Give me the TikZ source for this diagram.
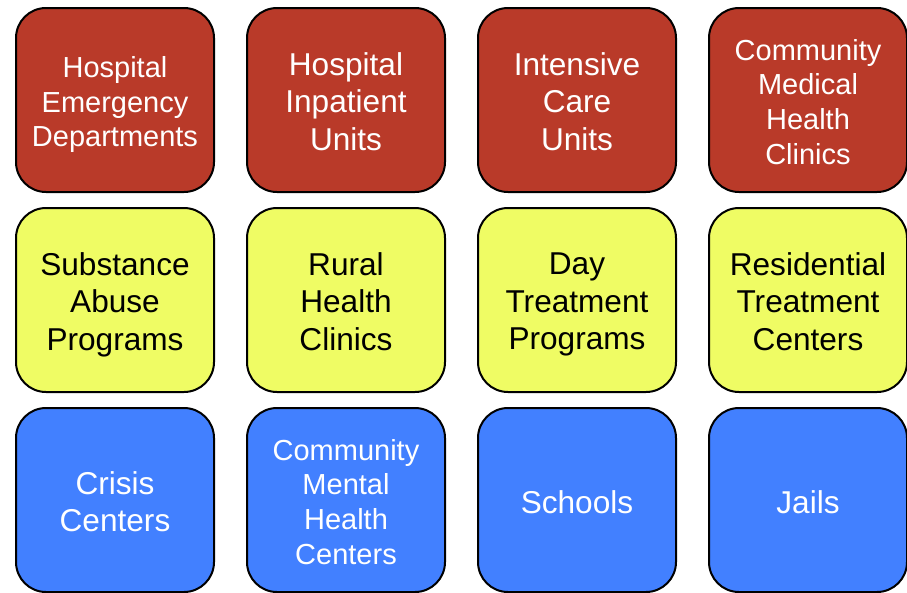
\documentclass[tikz,border=0pt]{standalone}
\usepackage{fontspec}
\setmainfont{Liberation Sans}
\definecolor{cred}{RGB}{185,58,41}
\definecolor{cyel}{RGB}{239,252,100}
\definecolor{cblue}{RGB}{66,128,255}
\newcommand\tstrut{\rule[-0.16\baselineskip]{0pt}{\baselineskip}}
\tikzset{
  tile/.style={draw=black, line width=2pt, rounded corners=30pt,
    minimum width=198pt, minimum height=184pt, inner sep=0pt},
  txt/.style={align=center, inner sep=0pt,
    execute at begin node=\tstrut, execute at end node=\tstrut},
  big/.style={font=\fontsize{31.6}{37.5}\selectfont},
  small/.style={font=\fontsize{29}{34.6}\selectfont},
  redtile/.style={tile, fill=cred},
  yeltile/.style={tile, fill=cyel},
  bluetile/.style={tile, fill=cblue},
  wtxt/.style={txt, text=white},
  ktxt/.style={txt, text=black},
  multi/.style={yshift=-4.5pt},
  single/.style={yshift=-1pt}
}
\begin{document}
\begin{tikzpicture}[x=1pt,y=-1pt]
\useasboundingbox (0,0) rectangle (907,592);
% row 1
\node[redtile] (a1) at (115,100) {};
\node[redtile] (a2) at (346,100) {};
\node[redtile] (a3) at (577,100) {};
\node[redtile] (a4) at (808,100) {};
\node[wtxt, small, multi] (a1t) at (a1.center) {Hospital\\Emergency\\Departments};
\node[wtxt, big, multi] (a2t) at (a2.center) {Hospital\\Inpatient\\Units};
\node[wtxt, big, multi] (a3t) at (a3.center) {Intensive\\Care\\Units};
\node[wtxt, small, multi] (a4t) at (a4.center) {Community\\Medical\\Health\\Clinics};
% row 2
\node[yeltile] (b1) at (115,300) {};
\node[yeltile] (b2) at (346,300) {};
\node[yeltile] (b3) at (577,300) {};
\node[yeltile] (b4) at (808,300) {};
\node[ktxt, big, multi] (b1t) at (b1.center) {Substance\\Abuse\\Programs};
\node[ktxt, big, multi] (b2t) at (b2.center) {Rural\\Health\\Clinics};
\node[ktxt, big, multi] (b3t) at (b3.center) {Day\\Treatment\\Programs};
\node[ktxt, big, multi] (b4t) at (b4.center) {Residential\\Treatment\\Centers};
% row 3
\node[bluetile] (c1) at (115,500) {};
\node[bluetile] (c2) at (346,500) {};
\node[bluetile] (c3) at (577,500) {};
\node[bluetile] (c4) at (808,500) {};
\node[wtxt, big, multi] (c1t) at (c1.center) {Crisis\\Centers};
\node[wtxt, small, multi] (c2t) at (c2.center) {Community\\Mental\\Health\\Centers};
\node[wtxt, big, single] (c3t) at (c3.center) {Schools};
\node[wtxt, big, single] (c4t) at (c4.center) {Jails};
\end{tikzpicture}
\end{document}
